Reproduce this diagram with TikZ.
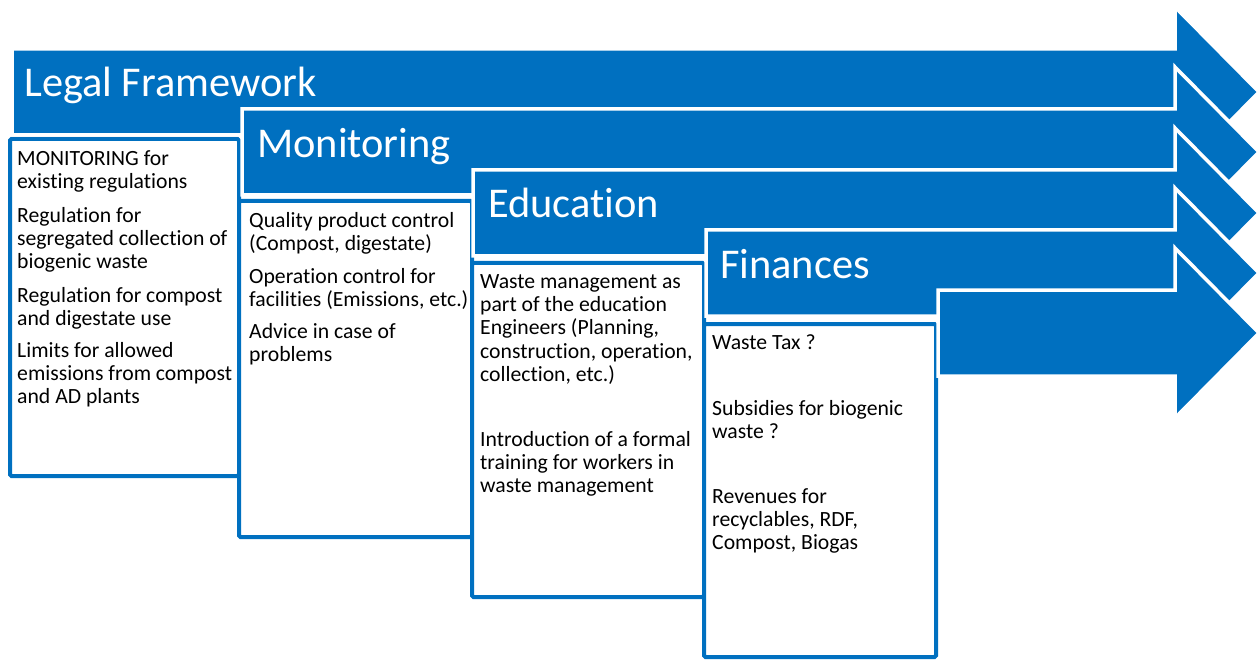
\documentclass[tikz,border=0pt]{standalone}
\usepackage{fontspec}
\setmainfont{Carlito}[RawFeature={-liga;-clig;-calt;-dlig;-rlig}]
\definecolor{sblue}{RGB}{0,112,192}
\begin{document}
\begin{tikzpicture}[x=1pt,y=-1pt,
  arr/.style={fill=sblue, draw=white, line width=3.5pt, line join=miter},
  box/.style={draw=sblue, line width=4pt, fill=white, rounded corners=1.5pt},
  ttl/.style={anchor=base west, inner sep=0pt, text=white, font=\fontsize{42.4}{50}\selectfont},
  txt/.style={anchor=north west, inner sep=0pt, align=left, yshift=16.31pt, text=black, font=\fontsize{21.7}{23.3}\selectfont}]
\useasboundingbox (0,0) rectangle (1260,660);
% boxes
\draw[box] (10,139) rectangle (239,476);
\draw[box] (239,201) rectangle (472,537);
\draw[box] (472,263) rectangle (704,597);
\draw[box] (704,324) rectangle (936,657);
% arrows
\foreach \L/\c in {12/92, 242/152, 473/213, 706/273, 938/333}{
  \draw[arr] (\L,\c-43) -- (1175,\c-43) -- (1175,\c-85) -- (1259,\c) -- (1175,\c+85) -- (1175,\c+43) -- (\L,\c+43) -- cycle;
}
% titles
\node[ttl] (t1) at (24,97) {Legal Framework};
\node[ttl] (t2) at (257,158) {Monitoring};
\node[ttl] (t3) at (488,218) {Education};
\node[ttl] (t4) at (720,278) {Finances};
% box 1
\node[txt] (p11) at (17,165) {\strut MONITORING for\\existing regulations};
\node[txt] (p12) at (17,222) {\strut Regulation for\\segregated collection of\\biogenic waste};
\node[txt] (p13) at (17,302) {\strut Regulation for compost\\and digestate use};
\node[txt] (p14) at (17,357) {\strut Limits for allowed\\emissions from compost\\and AD plants};
% box 2
\node[txt] (p21) at (249,227) {\strut Quality product control\\(Compost, digestate)};
\node[txt] (p22) at (249,283) {\strut Operation control for\\facilities (Emissions, etc.)};
\node[txt] (p23) at (249,338) {\strut Advice in case of\\problems};
% box 3
\node[txt] (p31) at (480,288) {\strut Waste management as\\part of the education\\Engineers (Planning,\\construction, operation,\\collection, etc.)};
\node[txt] (p32) at (480,446) {\strut Introduction of a formal\\training for workers in\\waste management};
% box 4
\node[txt] (p41) at (712,349) {\strut Waste Tax ?};
\node[txt] (p42) at (712,415) {\strut Subsidies for biogenic\\waste ?};
\node[txt] (p43) at (712,503) {\strut Revenues for\\recyclables, RDF,\\Compost, Biogas};
\end{tikzpicture}
\end{document}
